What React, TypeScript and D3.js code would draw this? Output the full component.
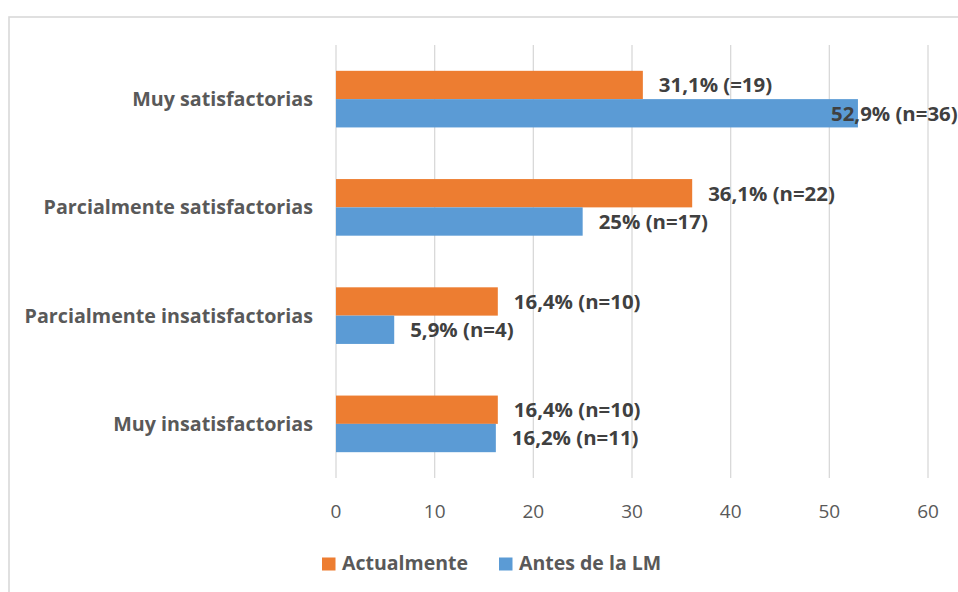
import React from "react";
import * as d3 from "d3";

const categories = [
  "Muy satisfactorias",
  "Parcialmente satisfactorias",
  "Parcialmente insatisfactorias",
  "Muy insatisfactorias",
];
const seriesNames = ["Actualmente", "Antes de la LM"];
const actualmente = [31.1, 36.1, 16.4, 16.4];
const antes = [52.9, 25, 5.9, 16.2];
const labelsActualmente = ["31,1% (=19)", "36,1% (n=22)", "16,4% (n=10)", "16,4% (n=10)"];
const labelsAntes = ["52,9% (n=36)", "25% (n=17)", "5,9% (n=4)", "16,2% (n=11)"];
const xTicks = [0, 10, 20, 30, 40, 50, 60];
const colors = ["#ED7D31", "#5B9BD5"];

const W = 958;
const H = 592;
const FONT = "'Open Sans', 'Liberation Sans', sans-serif";

export default function App() {
  const x = d3.scaleLinear().domain([0, 60]).range([336, 928]);
  const y = d3
    .scaleBand<string>()
    .domain(categories)
    .range([45, 478])
    .paddingInner(0.477)
    .paddingOuter(0.2385);
  const ys = d3.scaleBand<string>().domain(seriesNames).range([0, y.bandwidth()]);
  const series = [
    { name: seriesNames[0], values: actualmente, labels: labelsActualmente },
    { name: seriesNames[1], values: antes, labels: labelsAntes },
  ];
  const labelW = 127;

  return (
    <svg
      width={W}
      height={H}
      style={{ position: "absolute", left: 0, top: 0, background: "#fff" }}
      fontFamily={FONT}
    >
      <rect x={9} y={17} width={W + 20} height={H + 20} fill="#fff" stroke="#d9d9d9" strokeWidth={1.6} />
      {xTicks.map((t) => (
        <line key={"g" + t} x1={x(t)} x2={x(t)} y1={45} y2={478} stroke="#d9d9d9" strokeWidth={1.3} />
      ))}
      {xTicks.map((t) => (
        <text key={"t" + t} x={x(t)} y={518} textAnchor="middle" fontSize={19} fill="#595959">
          {t}
        </text>
      ))}
      {categories.map((c) => (
        <text
          key={"c" + c}
          x={313}
          y={(y(c) as number) + y.bandwidth() / 2 + 7}
          textAnchor="end"
          fontSize={19.7}
          fontWeight="bold"
          fill="#595959"
        >
          {c}
        </text>
      ))}
      {series.map((s, si) =>
        categories.map((c, i) => {
          const y0 = (y(c) as number) + (ys(s.name) as number);
          const h = ys.bandwidth();
          const xe = x(s.values[i]);
          const lx = Math.min(xe + 16, W - labelW);
          return (
            <g key={s.name + c}>
              <rect x={x(0)} y={y0} width={xe - x(0)} height={h} fill={colors[si]} />
              <text
                x={lx}
                y={y0 + h / 2 + 7.3}
                fontSize={20.4}
                fontWeight="bold"
                fill="#404040"
              >
                {s.labels[i]}
              </text>
            </g>
          );
        })
      )}
      {seriesNames.map((n, i) => {
        const lx = [322, 499][i];
        return (
          <g key={"l" + n}>
            <rect x={lx} y={557.5} width={13.5} height={13} fill={colors[i]} />
            <text x={lx + 20} y={570} fontSize={19.5} fontWeight="bold" fill="#595959">
              {n}
            </text>
          </g>
        );
      })}
    </svg>
  );
}
